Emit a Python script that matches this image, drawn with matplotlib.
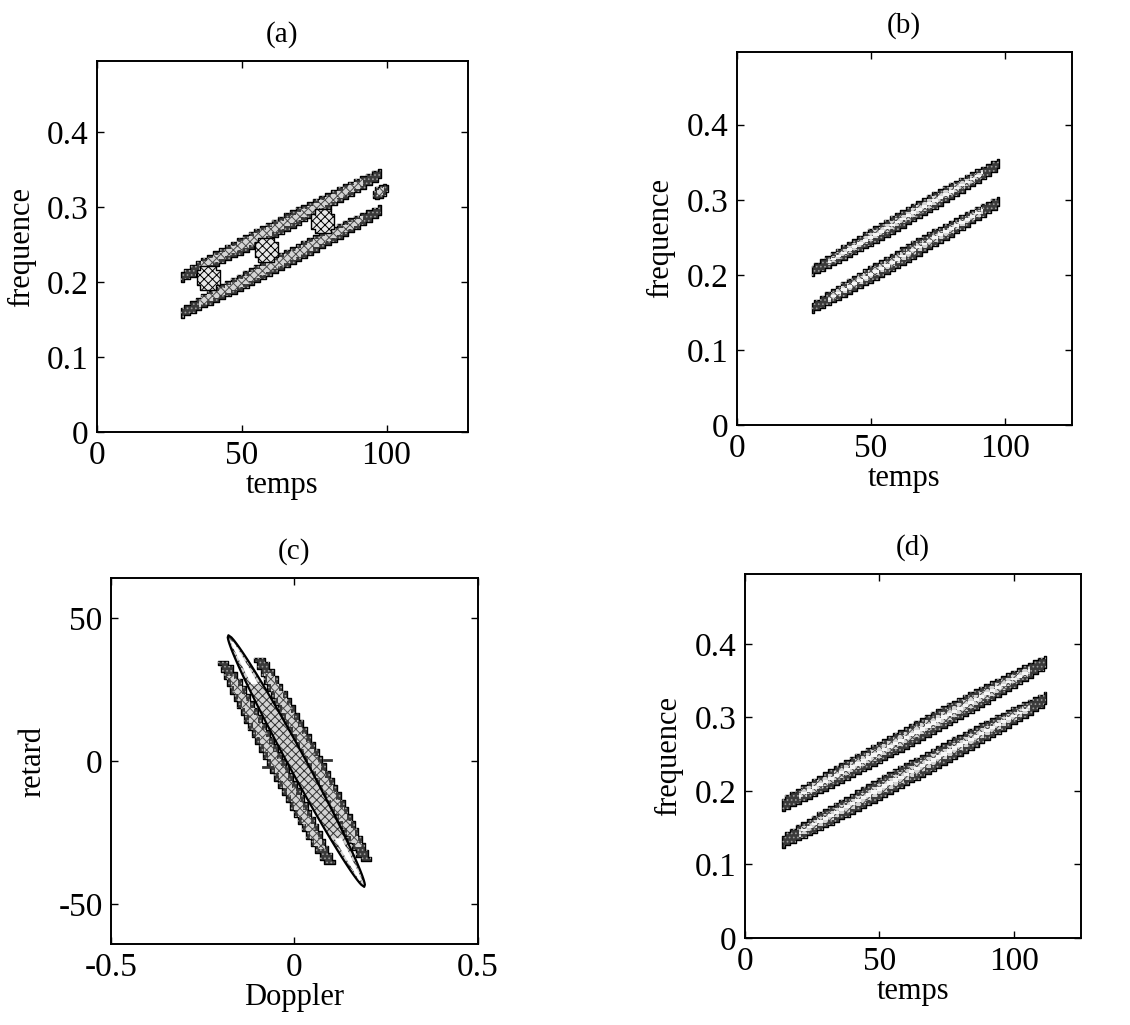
import numpy as np
import matplotlib.pyplot as plt

plt.rcParams['font.family'] = ['Liberation Serif', 'DejaVu Serif']
plt.rcParams['hatch.linewidth'] = 0.7

# (a) two chirps + interference terms
a_t0 = [29, 29]
a_t1 = [98, 98]
a_f0 = [0.207, 0.159]
a_f1 = [0.345, 0.296]
a_hw = 0.0115
a_cross_t = [38.5, 58.5, 78]
a_cross_f = [0.206, 0.243, 0.281]
a_spot_t = [95.5, 100.5]
a_spot_f = [0.317, 0.325]

# (b) two chirps
b_t0 = [28, 28]
b_t1 = [98, 98]
b_f0 = [0.205, 0.156]
b_f1 = [0.348, 0.298]
b_hw = 0.0115

# (c) ambiguity plane
c_r0 = [35, 36]
c_r1 = [-36, -35]
c_d0 = [-0.195, -0.095]
c_d1 = [0.095, 0.195]
c_hw = 0.026
c_mid_r = [44, -44]
c_mid_d = [-0.18, 0.19]
c_mid_hw = 0.027
c_dash_d = [-0.076, 0.09]
c_dash_r = [-2, 0.3]

# (d) two chirps
d_t0 = [14, 14]
d_t1 = [112, 112]
d_f0 = [0.181, 0.131]
d_f1 = [0.376, 0.326]
d_hw = 0.015

freq_ticks = [0, 0.1, 0.2, 0.3, 0.4]
freq_labels = ['0', '0.1', '0.2', '0.3', '0.4']
time_ticks = [0, 50, 100]


def ridge(ax, x0, y0, x1, y1, hw, step, vertical=False, core=True):
    n = int(abs(x1 - x0) / step) + 1
    x = np.linspace(x0, x1, n)
    s = np.linspace(-1, 1, n)
    yc = y0 + (y1 - y0) * (x - x0) / (x1 - x0)
    w = hw * np.sqrt(1 - 0.7 * s ** 2)
    fill = ax.fill_betweenx if vertical else ax.fill_between
    fill(x, yc - w, yc + w, step='mid', facecolor='#3a3a3a', edgecolor='black', lw=1.0)
    fill(x, yc - w, yc + w, step='mid', facecolor='none', edgecolor='#9a9a9a', hatch='....', lw=0)
    inner = np.abs(s) < 0.88
    wi = 0.5 * w
    fill(x[inner], (yc - wi)[inner], (yc + wi)[inner], step='mid',
         facecolor='#d4d4d4', edgecolor='#4a4a4a', hatch='xxxx', lw=0)
    if core:
        wc = 0.16 * w
        fill(x[inner], (yc - wc)[inner], (yc + wc)[inner], step='mid',
             facecolor='#f6f6f6', lw=0)


def style(ax, title, xlabel, ylabel):
    ax.set_title(title, fontsize=21, pad=14)
    ax.set_xlabel(xlabel, fontsize=22, labelpad=0)
    ax.set_ylabel(ylabel, fontsize=22, labelpad=8)
    ax.tick_params(direction='in', top=True, right=True, labelsize=24, length=5, width=1, pad=6)
    for sp in ax.spines.values():
        sp.set_linewidth(1.4)


fig = plt.figure(figsize=(11.3, 10.25), dpi=100)
ax_a = fig.add_axes([0.0858, 0.5785, 0.328, 0.362])
ax_b = fig.add_axes([0.652, 0.5854, 0.2965, 0.364])
ax_c = fig.add_axes([0.0982, 0.079, 0.3248, 0.357])
ax_d = fig.add_axes([0.659, 0.0849, 0.298, 0.355])

# (a)
for i in range(2):
    ridge(ax_a, a_t0[i], a_f0[i], a_t1[i], a_f1[i], a_hw, 2.0, core=False)
for t, f in zip(a_cross_t, a_cross_f):
    ax_a.fill_between([t - 4, t - 1.5, t + 1.5, t + 4], [f - 0.01, f - 0.016, f - 0.016, f - 0.01],
                      [f + 0.01, f + 0.016, f + 0.016, f + 0.01], step='mid',
                      facecolor='#e8e8e8', edgecolor='black', hatch='xxxx', lw=1.0)
ridge(ax_a, a_spot_t[0], a_spot_f[0], a_spot_t[1], a_spot_f[1], 0.009, 1.2, core=False)
ax_a.set_xlim(0, 128)
ax_a.set_ylim(0, 0.495)
ax_a.set_xticks(time_ticks)
ax_a.set_yticks(freq_ticks, freq_labels)
style(ax_a, '(a)', 'temps', 'frequence')

# (b)
for i in range(2):
    ridge(ax_b, b_t0[i], b_f0[i], b_t1[i], b_f1[i], b_hw, 2.0)
ax_b.set_xlim(0, 125)
ax_b.set_ylim(0, 0.497)
ax_b.set_xticks(time_ticks)
ax_b.set_yticks(freq_ticks, freq_labels)
style(ax_b, '(b)', 'temps', 'frequence')

# (c)
for i in range(2):
    ridge(ax_c, c_r0[i], c_d0[i], c_r1[i], c_d1[i], c_hw, 2.5, vertical=True, core=False)
r = np.linspace(c_mid_r[0], c_mid_r[1], 120)
s = np.linspace(-1, 1, 120)
dc = c_mid_d[0] + (c_mid_d[1] - c_mid_d[0]) * (r - c_mid_r[0]) / (c_mid_r[1] - c_mid_r[0])
wm = c_mid_hw * np.sqrt(1 - s ** 2)
ax_c.fill_betweenx(r, dc - wm, dc + wm, facecolor='#d2d2d2', edgecolor='#333333', hatch='xxxx', lw=0)
ax_c.fill_betweenx(r, dc - wm, dc + wm, facecolor='none', edgecolor='black', lw=1.6)
top = (s > -0.95) & (s < -0.6)
bot = (s > 0.6) & (s < 0.95)
wt = 0.45 * wm
ax_c.fill_betweenx(r[top], (dc - wt)[top], (dc + wt)[top], facecolor='white', lw=0)
ax_c.fill_betweenx(r[bot], (dc - wt)[bot], (dc + wt)[bot], facecolor='white', lw=0)
for d, rr in zip(c_dash_d, c_dash_r):
    ax_c.plot([d - 0.01, d + 0.01], [rr, rr], color='#333333', lw=2)
ax_c.set_xlim(-0.5, 0.5)
ax_c.set_ylim(-64, 64)
ax_c.set_xticks([-0.5, 0, 0.5], ['-0.5', '0', '0.5'])
ax_c.set_yticks([-50, 0, 50], ['-50', '0', '50'])
style(ax_c, '(c)', 'Doppler', 'retard')

# (d)
for i in range(2):
    ridge(ax_d, d_t0[i], d_f0[i], d_t1[i], d_f1[i], d_hw, 2.0)
ax_d.set_xlim(0, 125)
ax_d.set_ylim(0, 0.495)
ax_d.set_xticks(time_ticks)
ax_d.set_yticks(freq_ticks, freq_labels)
style(ax_d, '(d)', 'temps', 'frequence')

fig.savefig('out.png', dpi=100)
